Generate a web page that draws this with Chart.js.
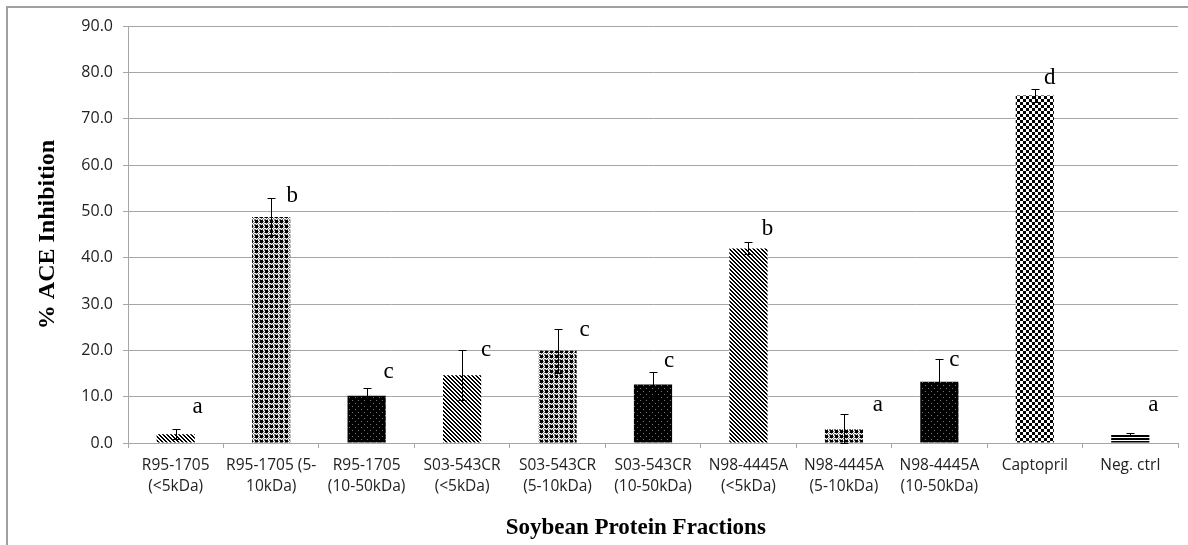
<!DOCTYPE html>
<html>
<head>
    <meta charset="utf-8">
    <script src="https://cdn.jsdelivr.net/npm/chart.js"></script>
    <style>
        body {
            margin: 0;
            padding: 0;
            background: white;
        }
        .frame {
            position: absolute;
            left: 6px;
            top: 6px;
            width: 1182px;
            height: 539px;
            border-left: 2px solid #a0a0a0;
            border-top: 2px solid #a0a0a0;
        }
        #chart {
            position: absolute;
            left: 0;
            top: 0;
        }
    </style>
</head>
<body>
    <div class="frame"></div>
    <canvas id="chart" width="1188" height="545"></canvas>
    <script>
        // fractions on the x axis
        const fractions = [
            ['R95-1705', '(<5kDa)'],
            ['R95-1705 (5-', '10kDa)'],
            ['R95-1705', '(10-50kDa)'],
            ['S03-543CR', '(<5kDa)'],
            ['S03-543CR', '(5-10kDa)'],
            ['S03-543CR', '(10-50kDa)'],
            ['N98-4445A', '(<5kDa)'],
            ['N98-4445A', '(5-10kDa)'],
            ['N98-4445A', '(10-50kDa)'],
            'Captopril',
            'Neg. ctrl'
        ];
        // % ACE inhibition and its error
        const inhibition = [1.9, 48.8, 10.2, 14.6, 19.9, 12.6, 42.0, 3.0, 13.2, 75.0, 1.9];
        const errors = [1.1, 4.0, 1.6, 5.4, 4.7, 2.7, 1.3, 3.3, 4.9, 1.4, 0.2];
        // significance letters and the height they sit at
        const letters = ['a', 'b', 'c', 'c', 'c', 'c', 'b', 'a', 'c', 'd', 'a'];
        const letterHeights = [7.8, 53.3, 15.3, 20.1, 24.4, 17.7, 46.1, 8.2, 17.9, 78.7, 8.2];
        const yTicks = [0, 10, 20, 30, 40, 50, 60, 70, 80, 90];

        // letter offset to the right of bar centre (px) and fill pattern per bar
        const letterDx = [22, 21, 22, 24, 27, 16, 19, 34, 15, 15, 23];
        const fills = ['diag', 'plaid', 'dots', 'diag', 'plaid', 'dots', 'diag', 'plaid', 'dots', 'checker', 'lines'];

        // tiles: B black, G grey, W white
        const tiles = {
            diag: ['BBWW', 'WBBW', 'WWBB', 'BWWB'],
            plaid: [
                'BBBWG',
                'BBBGW',
                'BBBWG',
                'WGWGW',
                'GWGWG'
            ],
            dots: ['BBBBBB', 'BGBBBB', 'BBBBBB', 'BBBBBB', 'BBBBGB', 'BBBBBB'],
            checker: ['BBBWWW', 'BBBWWW', 'BBBWWW', 'WWWBBB', 'WWWBBB', 'WWWBBB'],
            lines: ['BBBB', 'BBBB', 'WWWW']
        };
        const tileColours = { B: '#000', G: '#777', W: '#fff' };

        function makePattern(kind) {
            const rows = tiles[kind];
            const c = document.createElement('canvas');
            c.width = rows[0].length;
            c.height = rows.length;
            const g = c.getContext('2d');
            rows.forEach((row, j) => {
                for (let i = 0; i < row.length; i++) {
                    g.fillStyle = tileColours[row[i]];
                    g.fillRect(i, j, 1, 1);
                }
            });
            return g.createPattern(c, 'repeat');
        }

        const ctx = document.getElementById('chart').getContext('2d');
        const patterns = fills.map(makePattern);

        // error bars and letters drawn over the bars
        const extras = {
            id: 'extras',
            afterDatasetsDraw(chart) {
                const g = chart.ctx;
                const y = chart.scales.y;
                const bars = chart.getDatasetMeta(0).data;
                g.save();
                g.strokeStyle = '#000';
                g.lineWidth = 1;
                bars.forEach((bar, i) => {
                    const x = Math.round(bar.x) + 0.5;
                    const top = Math.round(y.getPixelForValue(inhibition[i] + errors[i])) + 0.5;
                    const bot = Math.round(y.getPixelForValue(Math.max(0, inhibition[i] - errors[i]))) + 0.5;
                    g.beginPath();
                    g.moveTo(x, top); g.lineTo(x, bot);
                    g.moveTo(x - 4, top); g.lineTo(x + 4, top);
                    g.moveTo(x - 4, bot); g.lineTo(x + 4, bot);
                    g.stroke();
                });
                g.fillStyle = '#000';
                g.font = '23px "Liberation Serif"';
                g.textAlign = 'center';
                g.textBaseline = 'middle';
                bars.forEach((bar, i) => {
                    g.fillText(letters[i], bar.x + letterDx[i], y.getPixelForValue(letterHeights[i]));
                });
                g.restore();
            }
        };

        new Chart(ctx, {
            type: 'bar',
            data: {
                labels: fractions,
                datasets: [{
                    data: inhibition,
                    backgroundColor: patterns,
                    borderWidth: 0,
                    barPercentage: 0.4,
                    categoryPercentage: 1.0
                }]
            },
            options: {
                responsive: false,
                animation: false,
                layout: { padding: { left: 0, right: 10, top: 26, bottom: 0 } },
                plugins: {
                    legend: { display: false },
                    tooltip: { enabled: false }
                },
                scales: {
                    x: {
                        afterFit(s) { s.height = 102; },
                        grid: {
                            drawOnChartArea: false,
                            drawTicks: true,
                            tickLength: 5,
                            color: '#a6a6a6'
                        },
                        border: { color: '#a6a6a6', width: 1 },
                        ticks: {
                            autoSkip: false,
                            maxRotation: 0,
                            minRotation: 0,
                            padding: 8,
                            color: '#222',
                            font: { family: '"Open Sans"', size: 15.5, lineHeight: 1.3 }
                        },
                        title: {
                            display: true,
                            text: 'Soybean Protein Fractions      ',
                            color: '#000',
                            font: { family: '"Liberation Serif"', size: 23, weight: 'bold', lineHeight: 1.2 },
                            padding: { top: 0, bottom: 3 }
                        }
                    },
                    y: {
                        min: 0,
                        max: 90,
                        afterFit(s) { s.width = 128; },
                        afterBuildTicks(s) { s.ticks = yTicks.map(v => ({ value: v })); },
                        grid: {
                            color: '#a6a6a6',
                            tickLength: 5
                        },
                        border: { color: '#a6a6a6', width: 1 },
                        ticks: {
                            padding: 10,
                            color: '#222',
                            font: { family: '"Open Sans"', size: 16 },
                            callback: v => v.toFixed(1)
                        },
                        title: {
                            display: true,
                            text: '% ACE Inhibition',
                            color: '#000',
                            font: { family: '"Liberation Serif"', size: 24, weight: 'bold', lineHeight: 1.2 },
                            padding: { top: 33 }
                        }
                    }
                }
            },
            plugins: [extras]
        });
    </script>
</body>
</html>
